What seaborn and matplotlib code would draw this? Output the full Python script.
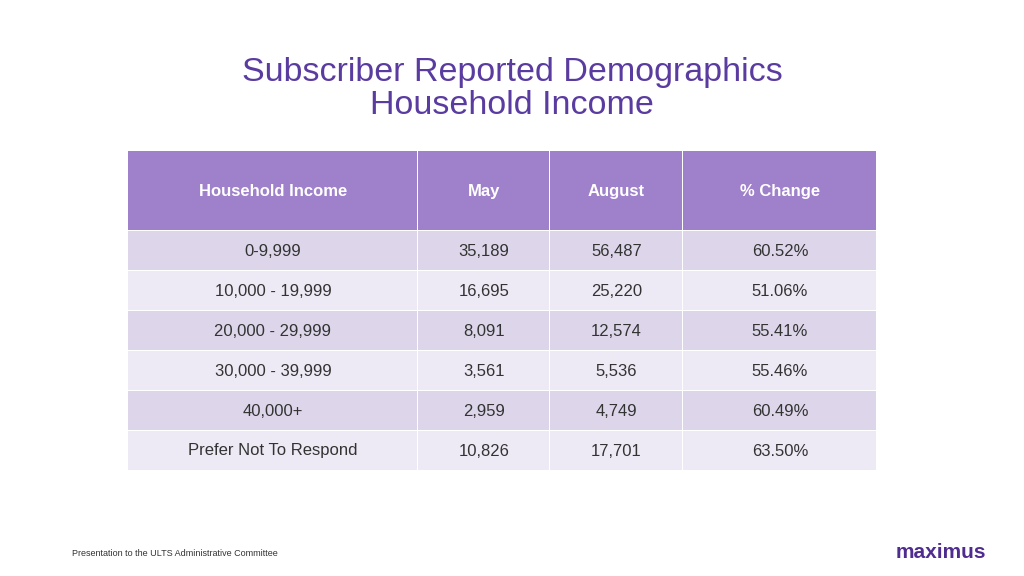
import matplotlib
matplotlib.use("Agg")
import matplotlib.pyplot as plt
import seaborn as sns
from matplotlib.patches import Rectangle

sns.set_theme(style="white", rc={"font.family": "Liberation Sans"})

TITLE = "Subscriber Reported Demographics"
SUBTITLE = "Household Income"
headers = ["Household Income", "May", "August", "% Change"]
income = ["0-9,999", "10,000 - 19,999", "20,000 - 29,999",
          "30,000 - 39,999", "40,000+", "Prefer Not To Respond"]
may = ["35,189", "16,695", "8,091", "3,561", "2,959", "10,826"]
august = ["56,487", "25,220", "12,574", "5,536", "4,749", "17,701"]
change = ["60.52%", "51.06%", "55.41%", "55.46%", "60.49%", "63.50%"]

PURPLE = "#9F80CB"
ROW_DARK = "#DDD6EA"
ROW_LIGHT = "#EEEAF5"
TITLE_C = "#5A3BA0"

col_edges = [128, 418, 550, 683, 877]
head_top, head_bot = 151, 230
row_h = 40

fig = plt.figure(figsize=(10.24, 5.76), dpi=100)
ax = fig.add_axes([0, 0, 1, 1])
ax.set_xlim(0, 1024)
ax.set_ylim(576, 0)
ax.axis("off")

ax.text(512, 73, TITLE, ha="center", va="center", fontsize=24.5, color=TITLE_C)
ax.text(512, 106, SUBTITLE, ha="center", va="center", fontsize=24.5, color=TITLE_C)

gap = 1.5
for j, h in enumerate(headers):
    x0, x1 = col_edges[j], col_edges[j + 1]
    ax.add_patch(Rectangle((x0, head_top), x1 - x0 - gap, head_bot - head_top,
                           color=PURPLE, lw=0))
    ax.text((x0 + x1) / 2, (head_top + head_bot) / 2 + 1, h, ha="center", va="center",
            fontsize=12, color="white", fontweight="bold")

rows = list(zip(income, may, august, change))
for i, row in enumerate(rows):
    y0 = head_bot + 1 + i * row_h
    fc = ROW_DARK if i % 2 == 0 else ROW_LIGHT
    for j, val in enumerate(row):
        x0, x1 = col_edges[j], col_edges[j + 1]
        ax.add_patch(Rectangle((x0, y0), x1 - x0 - gap, row_h - gap, color=fc, lw=0))
        ax.text((x0 + x1) / 2, y0 + row_h / 2, val, ha="center", va="center",
                fontsize=12, color="#333333")

ax.text(72, 553, "Presentation to the ULTS Administrative Committee",
        ha="left", va="center", fontsize=6.5, color="#333333")
ax.text(986, 553, "maximus", ha="right", va="center", fontsize=15,
        color="#4F2C8F", fontweight="bold")

fig.savefig("out.png", dpi=100)
